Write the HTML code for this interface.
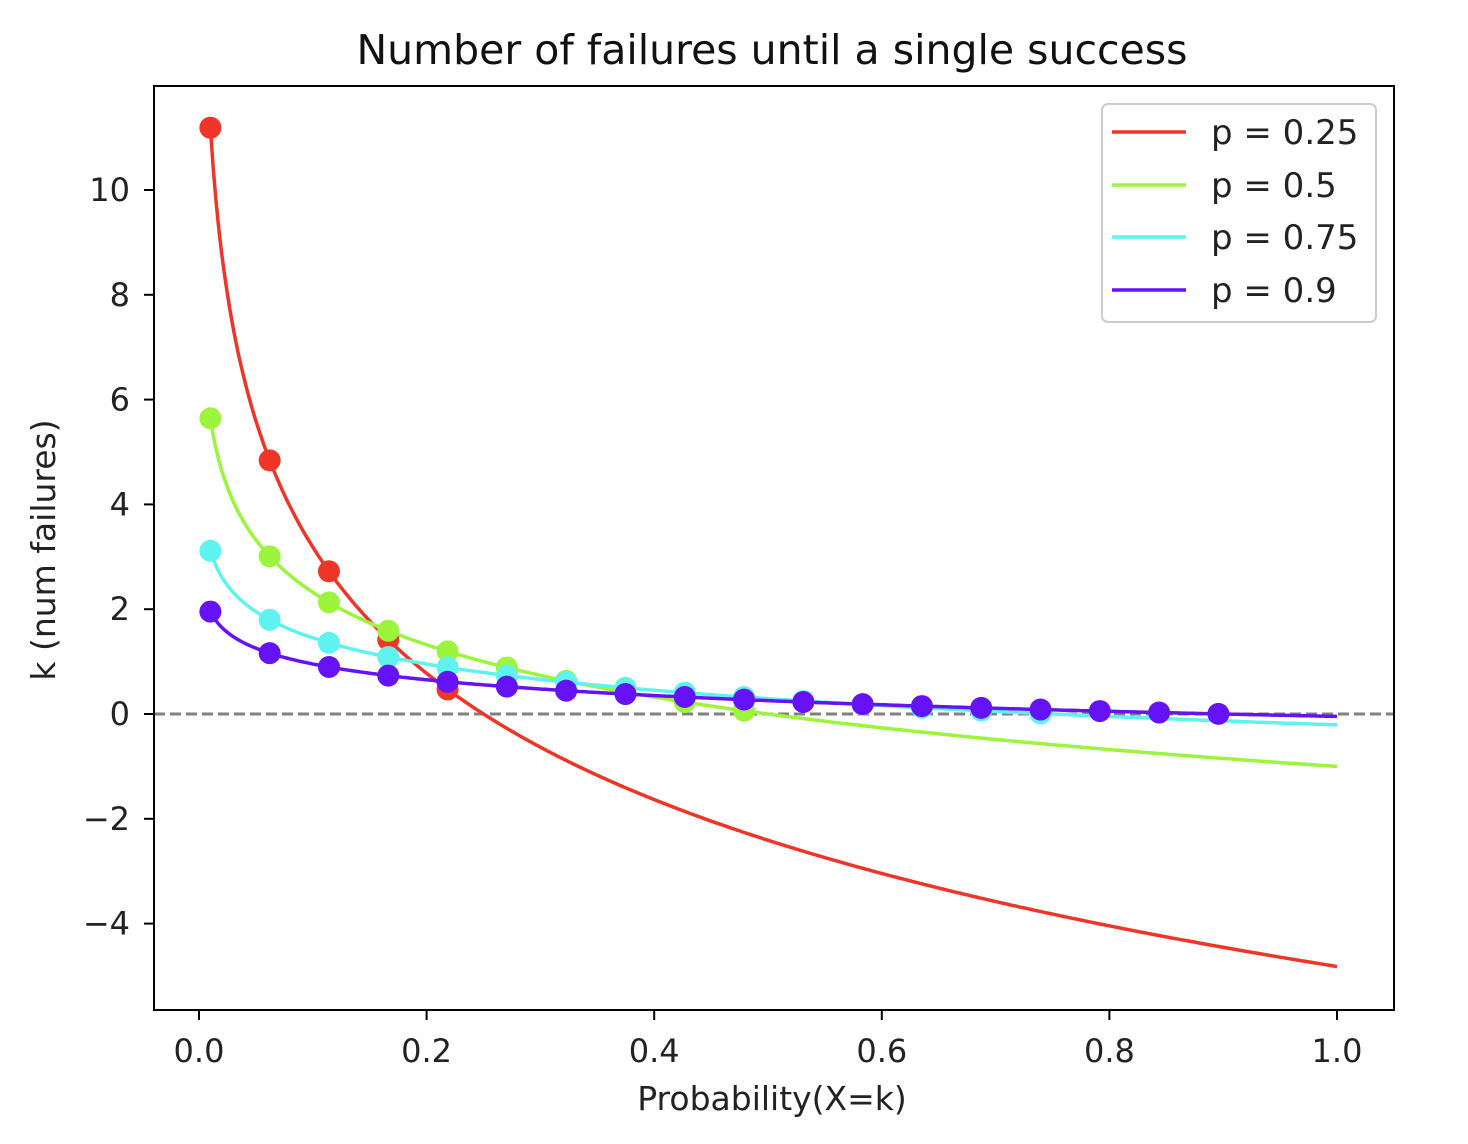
<!DOCTYPE html>
<html><head><meta charset="utf-8"><style>
html,body{margin:0;padding:0;background:#fff;}
svg{display:block;font-family:"DejaVu Sans","Liberation Sans",sans-serif;}
</style></head><body>
<svg id="s" width="1468" height="1144" xmlns="http://www.w3.org/2000/svg">
<rect width="1468" height="1144" fill="#fff"/>
<text x="772" y="64" font-size="41" text-anchor="middle" fill="#111">Number of failures until a single success</text>
<g id="plot"></g>
<rect x="154" y="86" width="1240" height="924" fill="none" stroke="#000" stroke-width="2"/>
<g id="ticks" font-size="32" fill="#222"></g>
<text x="772" y="1110" font-size="33" text-anchor="middle" fill="#222">Probability(X=k)</text>
<text transform="translate(55,550) rotate(-90)" font-size="33" text-anchor="middle" fill="#222">k (num failures)</text>
<rect x="1102" y="104" width="274" height="218" rx="6" fill="#fff" fill-opacity="0.85" stroke="#ccc" stroke-width="2"/>
<g font-size="34" fill="#222">
<line x1="1112" y1="132" x2="1186" y2="132" stroke="#ee3528" stroke-width="3.5"/><text x="1211" y="144">p = 0.25</text>
<line x1="1112" y1="185" x2="1186" y2="185" stroke="#9cf53c" stroke-width="3.5"/><text x="1211" y="197">p = 0.5</text>
<line x1="1112" y1="237" x2="1186" y2="237" stroke="#5ff3f0" stroke-width="3.5"/><text x="1211" y="249">p = 0.75</text>
<line x1="1112" y1="290" x2="1186" y2="290" stroke="#6512f7" stroke-width="3.5"/><text x="1211" y="302">p = 0.9</text>
</g>
</svg>
<script>
var NS="http://www.w3.org/2000/svg";
function X(v){return 199+1138*v;}function Y(v){return 714-52.4*v;}
var plot=document.getElementById("plot"),tk=document.getElementById("ticks");
function el(t,a,p){var e=document.createElementNS(NS,t);for(var k in a)e.setAttribute(k,a[k]);(p||plot).appendChild(e);return e;}
el("line",{x1:154,x2:1394,y1:Y(0),y2:Y(0),stroke:"#808080","stroke-width":3,"stroke-dasharray":"11,5"});
var S=[[0.25,"#ee3528"],[0.5,"#9cf53c"],[0.75,"#5ff3f0"],[0.9,"#6512f7"]];
S.forEach(function(s){var p=s[0],d="";for(var i=0;i<=400;i++){var x=0.01+0.99*i/400;var k=Math.log(x/p)/Math.log(1-p);d+=(i?"L":"M")+X(x).toFixed(1)+","+Y(k).toFixed(1);}
el("path",{d:d,fill:"none",stroke:s[1],"stroke-width":3.5});});
S.forEach(function(s){var p=s[0];for(var i=0;i<20;i++){var x=0.01+0.99*i/19;var k=Math.log(x/p)/Math.log(1-p);if(k>=0)el("circle",{cx:X(x),cy:Y(k),r:11,fill:s[1]});}});
[10,8,6,4,2,0,-2,-4].forEach(function(v){el("line",{x1:144,x2:154,y1:Y(v),y2:Y(v),stroke:"#000","stroke-width":2},tk);var t=el("text",{x:130,y:Y(v)+11,"text-anchor":"end"},tk);t.textContent=(v<0?"\u2212"+(-v):v);});
[0,0.2,0.4,0.6,0.8,1].forEach(function(v){el("line",{x1:X(v),x2:X(v),y1:1010,y2:1020,stroke:"#000","stroke-width":2},tk);var t=el("text",{x:X(v),y:1062,"text-anchor":"middle"},tk);t.textContent=v.toFixed(1);});
</script>
</body></html>
